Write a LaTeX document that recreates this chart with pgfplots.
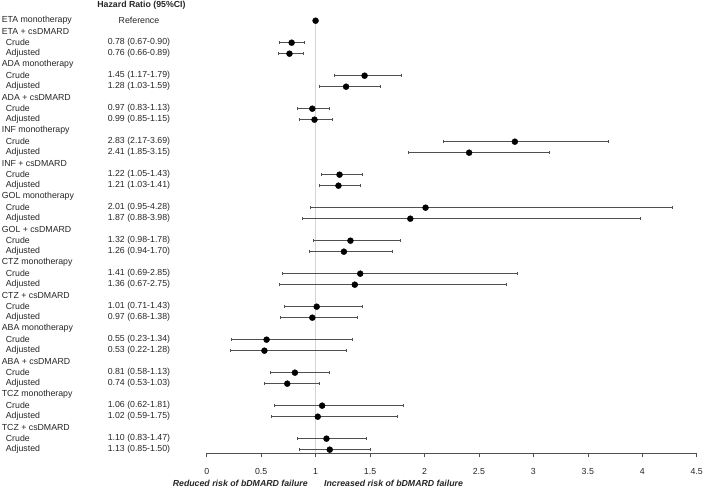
\documentclass[border=0pt]{standalone}
\usepackage{fontspec}
\setmainfont{Liberation Sans}
\usepackage{pgfplots}
\pgfplotsset{compat=1.18}
\usepackage{pgfplotstable}
\definecolor{txt}{HTML}{262626}
\definecolor{barc}{HTML}{505050}
\definecolor{refl}{HTML}{D4D4D4}

\pgfplotstableread{
row hr ep em
3 0.78 0.12 0.11
4 0.76 0.13 0.10
6 1.45 0.34 0.28
7 1.28 0.31 0.25
9 0.97 0.16 0.14
10 0.99 0.16 0.14
12 2.83 0.86 0.66
13 2.41 0.74 0.56
15 1.22 0.21 0.17
16 1.21 0.20 0.18
18 2.01 2.27 1.06
19 1.87 2.11 0.99
21 1.32 0.46 0.34
22 1.26 0.44 0.32
24 1.41 1.44 0.72
25 1.36 1.39 0.69
27 1.01 0.42 0.30
28 0.97 0.41 0.29
30 0.55 0.79 0.32
31 0.53 0.75 0.31
33 0.81 0.32 0.23
34 0.74 0.29 0.21
36 1.06 0.75 0.44
37 1.02 0.73 0.43
39 1.10 0.37 0.27
40 1.13 0.37 0.28
}\est

\begin{document}
\begin{tikzpicture}[font=\fontsize{8.8}{10}\selectfont, every node/.style={text=txt}]
\begin{axis}[
  at={(206.7bp,35.7bp)}, anchor=south west,
  scale only axis, width=490bp, height=443.6bp,
  xmin=0, xmax=4.5, ymin=-40.33, ymax=0,
  clip=false,
  axis x line*=bottom, axis y line=none,
  x axis line style={-, draw=barc, line width=0.6bp},
  xtick={0,0.5,1,1.5,2,2.5,3,3.5,4,4.5},
  xtick style={draw=barc, line width=0.6bp},
  tick align=outside, major tick length=4bp,
  xticklabel style={font=\fontsize{8.8}{10}\selectfont, text=txt, yshift=-8bp},
  /pgf/number format/assume math mode=true,
]
\addplot[refl, line width=0.8bp, no marks] coordinates {(1,-1) (1,-40.33)};
\addplot[only marks, mark=*, mark size=3pt, black] coordinates {(1,-1)};
\addplot[only marks, mark=*, mark size=3pt, black,
  error bars/.cd, x dir=both, x explicit,
  error bar style={draw=barc, line width=0.6bp},
  error mark options={rotate=90, mark size=1.6pt, draw=barc, line width=0.6bp}]
  table[x=hr, y expr=-\thisrow{row}, x error plus=ep, x error minus=em] {\est};

% title
\node[font=\fontsize{8.8}{10}\selectfont\bfseries] at (axis cs:-0.599,0.40) {Hazard Ratio (95\%CI)};
% group labels
\node[anchor=west,inner sep=0] at (axis cs:-1.883,-1) {ETA monotherapy};
\node[anchor=west,inner sep=0] at (axis cs:-1.883,-2) {ETA + csDMARD};
\node[anchor=west,inner sep=0] at (axis cs:-1.883,-5) {ADA monotherapy};
\node[anchor=west,inner sep=0] at (axis cs:-1.883,-8) {ADA + csDMARD};
\node[anchor=west,inner sep=0] at (axis cs:-1.883,-11) {INF monotherapy};
\node[anchor=west,inner sep=0] at (axis cs:-1.883,-14) {INF + csDMARD};
\node[anchor=west,inner sep=0] at (axis cs:-1.883,-17) {GOL monotherapy};
\node[anchor=west,inner sep=0] at (axis cs:-1.883,-20) {GOL + csDMARD};
\node[anchor=west,inner sep=0] at (axis cs:-1.883,-23) {CTZ monotherapy};
\node[anchor=west,inner sep=0] at (axis cs:-1.883,-26) {CTZ + csDMARD};
\node[anchor=west,inner sep=0] at (axis cs:-1.883,-29) {ABA monotherapy};
\node[anchor=west,inner sep=0] at (axis cs:-1.883,-32) {ABA + csDMARD};
\node[anchor=west,inner sep=0] at (axis cs:-1.883,-35) {TCZ monotherapy};
\node[anchor=west,inner sep=0] at (axis cs:-1.883,-38) {TCZ + csDMARD};
% sub labels
\pgfplotsinvokeforeach{3,6,9,12,15,18,21,24,27,30,33,36,39}{
  \node[anchor=west,inner sep=0] at (axis cs:-1.846,-#1) {Crude};
}
\pgfplotsinvokeforeach{4,7,10,13,16,19,22,25,28,31,34,37,40}{
  \node[anchor=west,inner sep=0] at (axis cs:-1.846,-#1) {Adjusted};
}
% values
\node at (axis cs:-0.622,-1) {Reference};
\node at (axis cs:-0.622,-3) {0.78 (0.67-0.90)};
\node at (axis cs:-0.622,-4) {0.76 (0.66-0.89)};
\node at (axis cs:-0.622,-6) {1.45 (1.17-1.79)};
\node at (axis cs:-0.622,-7) {1.28 (1.03-1.59)};
\node at (axis cs:-0.622,-9) {0.97 (0.83-1.13)};
\node at (axis cs:-0.622,-10) {0.99 (0.85-1.15)};
\node at (axis cs:-0.622,-12) {2.83 (2.17-3.69)};
\node at (axis cs:-0.622,-13) {2.41 (1.85-3.15)};
\node at (axis cs:-0.622,-15) {1.22 (1.05-1.43)};
\node at (axis cs:-0.622,-16) {1.21 (1.03-1.41)};
\node at (axis cs:-0.622,-18) {2.01 (0.95-4.28)};
\node at (axis cs:-0.622,-19) {1.87 (0.88-3.98)};
\node at (axis cs:-0.622,-21) {1.32 (0.98-1.78)};
\node at (axis cs:-0.622,-22) {1.26 (0.94-1.70)};
\node at (axis cs:-0.622,-24) {1.41 (0.69-2.85)};
\node at (axis cs:-0.622,-25) {1.36 (0.67-2.75)};
\node at (axis cs:-0.622,-27) {1.01 (0.71-1.43)};
\node at (axis cs:-0.622,-28) {0.97 (0.68-1.38)};
\node at (axis cs:-0.622,-30) {0.55 (0.23-1.34)};
\node at (axis cs:-0.622,-31) {0.53 (0.22-1.28)};
\node at (axis cs:-0.622,-33) {0.81 (0.58-1.13)};
\node at (axis cs:-0.622,-34) {0.74 (0.53-1.03)};
\node at (axis cs:-0.622,-36) {1.06 (0.62-1.81)};
\node at (axis cs:-0.622,-37) {1.02 (0.59-1.75)};
\node at (axis cs:-0.622,-39) {1.10 (0.83-1.47)};
\node at (axis cs:-0.622,-40) {1.13 (0.85-1.50)};
% bottom captions
\node[anchor=east,inner sep=0,font=\fontsize{8.8}{10}\selectfont\bfseries\itshape] at (axis cs:0.930,-43.03) {Reduced risk of bDMARD failure};
\node[anchor=west,inner sep=0,font=\fontsize{8.8}{10}\selectfont\bfseries\itshape] at (axis cs:1.077,-43.03) {Increased risk of bDMARD failure};
\end{axis}
\pgfresetboundingbox
\path (0,0) rectangle (703bp,489bp);
\end{tikzpicture}
\end{document}
